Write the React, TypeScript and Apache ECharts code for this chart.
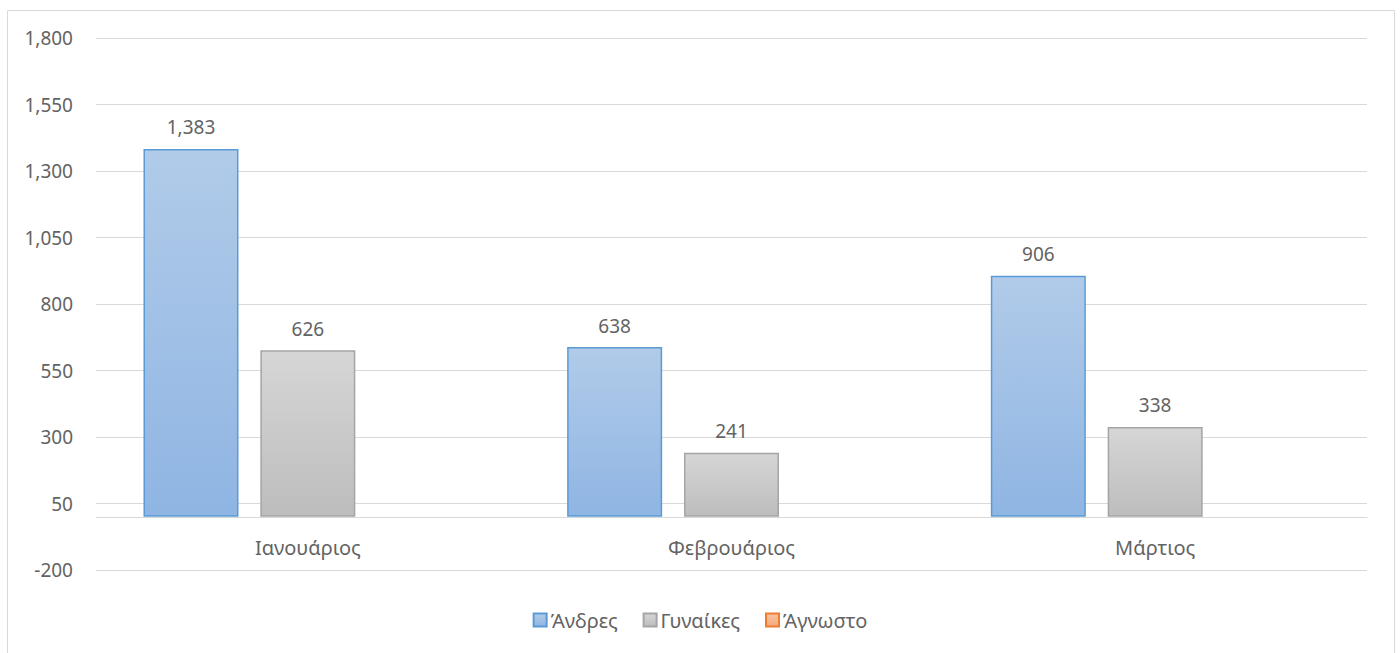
import React, { useEffect, useRef } from "react";
import * as echarts from "echarts";

const categories = ["Ιανουάριος", "Φεβρουάριος", "Μάρτιος"];
const men = [1383, 638, 906];
const women = [626, 241, 338];
const unknown: (number | null)[] = [null, null, null];
const seriesNames = ["Άνδρες", "Γυναίκες", "Άγνωστο"];

const FONT = "'Noto Sans', 'Open Sans', sans-serif";
const TEXT = "#636363";

const fmt = (v: number) => v.toLocaleString("en-US");

const grad = (top: string, bottom: string) => ({
  type: "linear",
  x: 0,
  y: 0,
  x2: 0,
  y2: 1,
  colorStops: [
    { offset: 0, color: top },
    { offset: 1, color: bottom },
  ],
});

export default function App() {
  const ref = useRef<HTMLDivElement>(null);
  useEffect(() => {
    if (!ref.current) return;
    const chart = echarts.init(ref.current, null, { renderer: "svg" });
    const label = {
      show: true,
      position: "top",
      distance: 12,
      color: TEXT,
      fontFamily: FONT,
      fontSize: 19,
      formatter: (p: any) => fmt(p.value),
    };
    chart.setOption({
      animation: false,
      backgroundColor: "#ffffff",
      textStyle: { fontFamily: FONT },
      graphic: [
        {
          type: "rect",
          shape: { x: 7.5, y: 10.5, width: 1387, height: 660 },
          style: { fill: "none", stroke: "#d9d9d9", lineWidth: 1 },
          silent: true,
        },
      ],
      grid: { left: 96, right: 33, top: 38, bottom: 83, containLabel: false },
      legend: {
        bottom: 18,
        left: "center",
        itemWidth: 13,
        itemHeight: 13,
        itemGap: 25,
        icon: "rect",
        textStyle: { color: TEXT, fontSize: 20, fontFamily: FONT, padding: [0, 0, 0, -1] },
        data: seriesNames,
      },
      xAxis: {
        type: "category",
        data: categories,
        axisLine: { show: true, onZero: true, lineStyle: { color: "#d9d9d9", width: 1 } },
        axisTick: { show: false },
        axisLabel: { color: TEXT, fontSize: 20, fontFamily: FONT, margin: -33 },
        splitLine: { show: false },
      },
      yAxis: {
        type: "value",
        min: -200,
        max: 1800,
        interval: 250,
        axisLine: { show: false },
        axisTick: { show: false },
        axisLabel: {
          color: TEXT,
          fontSize: 19,
          fontFamily: FONT,
          margin: 23,
          formatter: (v: number) => fmt(v),
        },
        splitLine: { show: true, lineStyle: { color: "#d9d9d9", width: 1 } },
      },
      series: [
        {
          name: seriesNames[0],
          type: "bar",
          data: men,
          barWidth: 95,
          barGap: "23%",
          itemStyle: { color: grad("#b1cbe9", "#8fb5e3"), borderColor: "#5b9bd5", borderWidth: 1.5 },
          label,
        },
        {
          name: seriesNames[1],
          type: "bar",
          data: women,
          barWidth: 95,
          barGap: "23%",
          itemStyle: { color: grad("#d6d6d6", "#bdbdbd"), borderColor: "#a5a5a5", borderWidth: 1.5 },
          label,
        },
        {
          name: seriesNames[2],
          type: "bar",
          data: unknown,
          barWidth: 95,
          barGap: "23%",
          itemStyle: { color: grad("#f7c4a2", "#f4a97a"), borderColor: "#ed7d31", borderWidth: 1.5 },
          label,
        },
      ],
    });
    return () => chart.dispose();
  }, []);
  return (
    <div
      ref={ref}
      style={{ position: "fixed", left: 0, top: 0, width: 1400, height: 653 }}
    />
  );
}
